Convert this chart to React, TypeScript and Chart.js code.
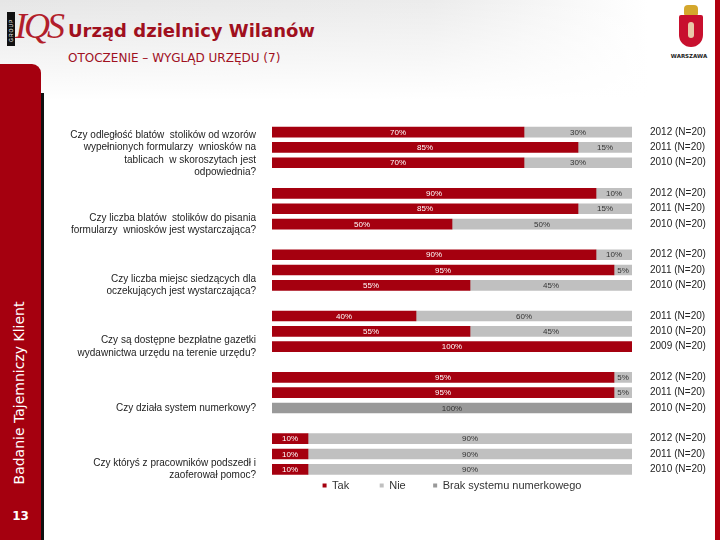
import React, { useEffect, useRef } from 'react';
import { Chart, registerables } from 'chart.js';

Chart.register(...registerables);

const rowLabels = [
  '2012 (N=20)', '2011 (N=20)', '2010 (N=20)', '',
  '2012 (N=20)', '2011 (N=20)', '2010 (N=20)', '',
  '2012 (N=20)', '2011 (N=20)', '2010 (N=20)', '',
  '2011 (N=20)', '2010 (N=20)', '2009 (N=20)', '',
  '2012 (N=20)', '2011 (N=20)', '2010 (N=20)', '',
  '2012 (N=20)', '2011 (N=20)', '2010 (N=20)',
];

const tak = [70, 85, 70, null, 90, 85, 50, null, 90, 95, 55, null, 40, 55, 100, null, 95, 95, null, null, 10, 10, 10];
const nie = [30, 15, 30, null, 10, 15, 50, null, 10, 5, 45, null, 60, 45, null, null, 5, 5, null, null, 90, 90, 90];
const brak = [null, null, null, null, null, null, null, null, null, null, null, null, null, null, null, null, null, null, 100, null, null, null, null];

const seriesNames = ['Tak', 'Nie', 'Brak systemu numerkowego'];

const questionRows = [1, 6, 10, 14, 18, 22];
const questions = [
  ['', 'Czy odległość blatów  stolików od wzorów', 'wypełnionych formularzy  wniosków na', 'tablicach  w skoroszytach jest', 'odpowiednia?'],
  ['Czy liczba blatów  stolików do pisania', 'formularzy  wniosków jest wystarczająca?'],
  ['Czy liczba miejsc siedzących dla', 'oczekujących jest wystarczająca?'],
  ['Czy są dostępne bezpłatne gazetki', 'wydawnictwa urzędu na terenie urzędu?'],
  ['Czy działa system numerkowy?'],
  ['Czy któryś z pracowników podszedł i', 'zaoferował pomoc?'],
];

const RED = '#A5000F';
const LIGHT = '#C0C0C0';
const DARK = '#999999';
const FONT = '"Liberation Sans", Arial, sans-serif';

const valueLabels = {
  id: 'valueLabels',
  afterDatasetsDraw(chart: any) {
    const ctx = chart.ctx;
    ctx.save();
    ctx.font = `8px ${FONT}`;
    ctx.textAlign = 'center';
    ctx.textBaseline = 'middle';
    chart.data.datasets.forEach((ds: any, di: number) => {
      const meta = chart.getDatasetMeta(di);
      meta.data.forEach((el: any, i: number) => {
        const v = ds.data[i];
        if (!v) return;
        const p = el.getProps(['x', 'y', 'base'], true);
        ctx.fillStyle = di === 0 ? '#ffffff' : '#333333';
        ctx.fillText(v + '%', (p.x + p.base) / 2, p.y + 0.5);
      });
    });
    ctx.restore();
  },
};

function BarChart() {
  const ref = useRef<HTMLCanvasElement>(null);
  useEffect(() => {
    if (!ref.current) return;
    const chart = new Chart(ref.current, {
      type: 'bar',
      data: {
        labels: rowLabels,
        datasets: [
          { label: seriesNames[0], data: tak, backgroundColor: RED, borderWidth: 0, barThickness: 10 },
          { label: seriesNames[1], data: nie, backgroundColor: LIGHT, borderWidth: 0, barThickness: 10 },
          { label: seriesNames[2], data: brak, backgroundColor: DARK, borderWidth: 0, barThickness: 10 },
        ],
      },
      options: {
        indexAxis: 'y',
        animation: false,
        responsive: true,
        maintainAspectRatio: false,
        layout: { padding: { top: 12.4, bottom: 0, left: 0, right: 0 } },
        scales: {
          x: { stacked: true, min: 0, max: 100, display: false },
          y: {
            stacked: true,
            position: 'left',
            grid: { display: false, drawTicks: false },
            border: { display: false },
            ticks: {
              autoSkip: false,
              padding: 16,
              color: '#222222',
              font: { family: FONT, size: 10, lineHeight: 1.25 },
              callback: (_v: any, index: number) => {
                const q = questionRows.indexOf(index);
                return q >= 0 ? questions[q] : '';
              },
            },
            afterFit: (s: any) => { s.width = 228; s.paddingTop = 0; s.paddingBottom = 0; },
          },
          y2: {
            type: 'category',
            labels: rowLabels,
            position: 'right',
            offset: true,
            grid: { display: false, drawTicks: false },
            border: { display: false },
            ticks: {
              autoSkip: false,
              padding: 18,
              color: '#222222',
              font: { family: FONT, size: 10 },
            },
            afterFit: (s: any) => { s.width = 80; s.paddingTop = 0; s.paddingBottom = 0; },
          },
        },
        plugins: {
          tooltip: { enabled: false },
          legend: {
            position: 'bottom',
            fullSize: false,
            align: 'center',
            labels: {
              boxWidth: 4,
              boxHeight: 4,
              padding: 3,
              color: '#333333',
              font: { family: FONT, size: 11 },
              generateLabels: (c: any) => {
                const items = Chart.defaults.plugins.legend.labels.generateLabels(c);
                const pads = ['         ', '        ', ''];
                return items.map((it: any, i: number) => ({
                  ...it,
                  lineWidth: 0,
                  text: it.text + pads[i],
                }));
              },
            },
          },
        },
      },
      plugins: [valueLabels],
    } as any);
    return () => chart.destroy();
  }, []);
  return <canvas ref={ref} />;
}

export default function App() {
  return (
    <div style={{ position: 'absolute', left: 0, top: 0, width: 720, height: 540, overflow: 'hidden', background: '#ffffff' }}>
      {/* header background */}
      <div style={{ position: 'absolute', left: 0, top: 0, width: 720, height: 100, background: 'linear-gradient(to bottom, rgba(255,255,255,0) 0%, #ffffff 100%), linear-gradient(to right, #e6e6e6 0%, #ececec 60%, #ffffff 90%)' }} />
      {/* IQS logo */}
      <div style={{ position: 'absolute', left: 7, top: 12, width: 8, height: 34, background: '#111111' }} />
      <div style={{ position: 'absolute', left: 8, top: 42, width: 6, transform: 'rotate(-90deg)', transformOrigin: 'left top', color: '#ffffff', fontSize: 5, fontFamily: FONT, letterSpacing: 1 }}>GROUP</div>
      <div style={{ position: 'absolute', left: 15, top: 6, color: '#B21E2B', fontFamily: '"Liberation Serif", serif', fontStyle: 'italic', fontSize: 36, letterSpacing: -3, lineHeight: '40px' }}>IQS</div>
      {/* titles */}
      <div style={{ position: 'absolute', left: 68, top: 20, color: '#A0101E', fontFamily: '"DejaVu Sans", Verdana, sans-serif', fontWeight: 'bold', fontSize: 18, whiteSpace: 'nowrap' }}>Urząd dzielnicy Wilanów</div>
      <div style={{ position: 'absolute', left: 68, top: 51, color: '#A0101E', fontFamily: '"DejaVu Sans", Verdana, sans-serif', fontSize: 12, whiteSpace: 'nowrap' }}>OTOCZENIE – WYGLĄD URZĘDU (7)</div>
      {/* Warszawa crest */}
      <div style={{ position: 'absolute', left: 684, top: 5, width: 14, height: 10, background: '#D4A72C', borderRadius: '4px 4px 1px 1px' }} />
      <div style={{ position: 'absolute', left: 679, top: 15, width: 24, height: 32, background: '#C8102E', borderRadius: '2px 2px 12px 12px' }} />
      <div style={{ position: 'absolute', left: 688, top: 22, width: 6, height: 16, background: '#E9C9A8', borderRadius: 3 }} />
      <div style={{ position: 'absolute', left: 668, top: 53, width: 42, textAlign: 'center', color: '#222222', fontFamily: '"DejaVu Sans", sans-serif', fontWeight: 'bold', fontSize: 5.5 }}>WARSZAWA</div>
      {/* right red bar */}
      <div style={{ position: 'absolute', left: 715, top: 0, width: 5, height: 540, background: '#B00010' }} />
      {/* left sidebar */}
      <div style={{ position: 'absolute', left: 41, top: 93, width: 3, height: 447, background: '#111111' }} />
      <div style={{ position: 'absolute', left: 0, top: 64, width: 41, height: 476, background: '#A5000F', borderTopRightRadius: 9 }} />
      <div style={{ position: 'absolute', left: 19, top: 393, width: 0, height: 0 }}>
        <div style={{ position: 'absolute', left: 0, top: 0, transform: 'translate(-50%, -50%) rotate(-90deg)', color: '#ffffff', fontFamily: '"DejaVu Sans", Verdana, sans-serif', fontSize: 14, whiteSpace: 'nowrap' }}>Badanie Tajemniczy Klient</div>
      </div>
      <div style={{ position: 'absolute', left: 0, top: 509, width: 41, textAlign: 'center', color: '#ffffff', fontFamily: '"DejaVu Sans", Verdana, sans-serif', fontWeight: 'bold', fontSize: 12 }}>13</div>
      {/* chart */}
      <div style={{ position: 'absolute', left: 44, top: 112, width: 668, height: 389 }}>
        <BarChart />
      </div>
    </div>
  );
}
